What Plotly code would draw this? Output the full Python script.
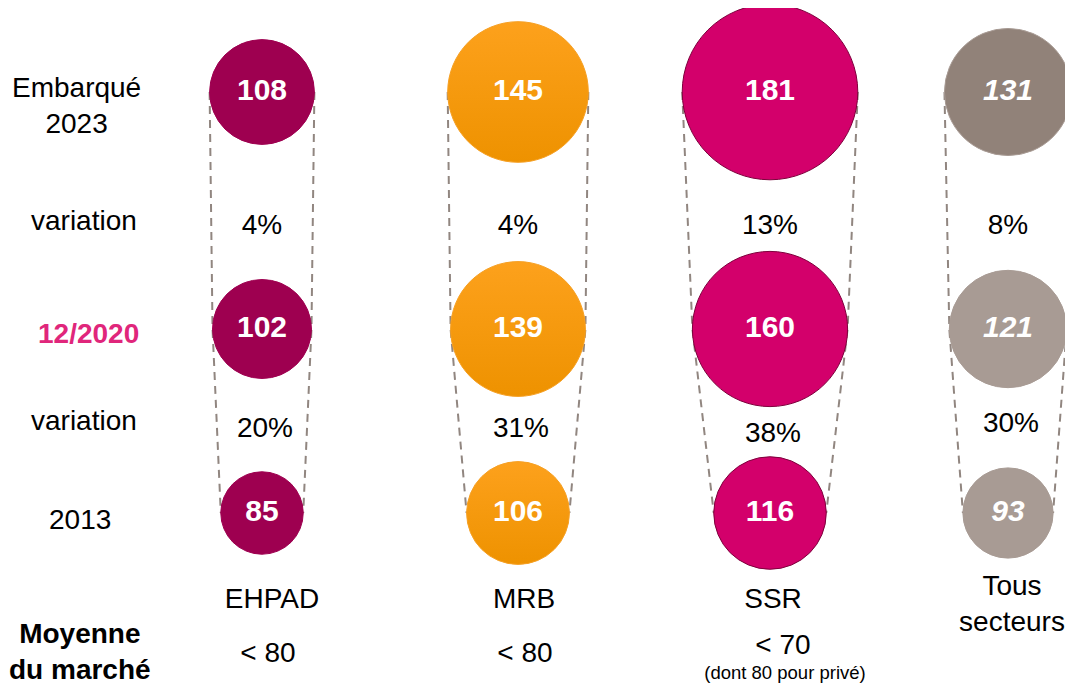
import plotly.graph_objects as go

# Données
secteurs = ["EHPAD", "MRB", "SSR", "Tous<br>secteurs"]
val_2023 = [108, 145, 181, 131]
val_2020 = [102, 139, 160, 121]
val_2013 = [85, 106, 116, 93]
var_2020_2023 = ["4%", "4%", "13%", "8%"]
var_2013_2020 = ["20%", "31%", "38%", "30%"]
moyenne = ["< 80", "< 80", "< 70", ""]
note_ssr = "(dont 80 pour privé)"

# Mise en page : la page a une marge de 8 px, on cale les axes pour que
# 1 unité = 1 px de l'écran
OFF = 8
W, H = 1073, 684
col_x = [262, 518, 770, 1008]
row_y = [92, 329, 513]
scale = 0.97  # diamètre du cercle = valeur * scale

couleurs = [
    ["#9E0050"] * 3,
    ["#FDA11C"] * 3,
    ["#D3006B"] * 3,
    ["#918279", "#A89B94", "#A89B94"],
]
contours = ["#9E0050", "#F6A024", "#7E003C", "#A89B94"]
FONT = "Arial, Liberation Sans, sans-serif"

fig = go.Figure()

# Lignes pointillées reliant les bords des cercles
for i in range(4):
    vals = [val_2023[i], val_2020[i], val_2013[i]]
    for side in (-1, 1):
        fig.add_trace(go.Scatter(
            x=[col_x[i] + side * v * scale / 2 for v in vals],
            y=row_y,
            mode="lines",
            line=dict(color="#918680", width=2, dash="8px,6px"),
            hoverinfo="skip"))

# Cercles
for i in range(4):
    vals = [val_2023[i], val_2020[i], val_2013[i]]
    marker = dict(size=vals, sizemode="diameter", sizeref=1 / scale,
                  color=couleurs[i], opacity=1,
                  line=dict(color=contours[i], width=1))
    if i == 1:
        marker["gradient"] = dict(type="vertical", color="#EE9200")
    fig.add_trace(go.Scatter(
        x=[col_x[i]] * 3, y=row_y, mode="markers+text",
        text=[str(v) for v in vals], textposition="middle center",
        textfont=dict(family=FONT, size=30, color="white", weight="bold",
                      style="italic" if i == 3 else "normal"),
        marker=marker, hoverinfo="skip"))

# Variations
var_y1 = [227, 227, 227, 227]
var_y2 = [430, 430, 435, 425]
fig.add_trace(go.Scatter(x=col_x, y=var_y1, mode="text", text=var_2020_2023,
                         textfont=dict(family=FONT, size=28, color="black"),
                         hoverinfo="skip"))
fig.add_trace(go.Scatter(x=[c + 3 for c in col_x], y=var_y2, mode="text", text=var_2013_2020,
                         textfont=dict(family=FONT, size=28, color="black"),
                         hoverinfo="skip"))

# Noms des secteurs
sect_y = [601, 601, 601, 606]
fig.add_trace(go.Scatter(x=[272, 524, 773, 1012], y=sect_y, mode="text", text=secteurs,
                         textfont=dict(family=FONT, size=28, color="black"),
                         hoverinfo="skip"))
# Moyenne du marché
fig.add_trace(go.Scatter(x=[268, 525, 783, 1012], y=[655, 655, 647, 655], mode="text",
                         text=moyenne,
                         textfont=dict(family=FONT, size=28, color="black"),
                         hoverinfo="skip"))
fig.add_trace(go.Scatter(x=[785], y=[674], mode="text", text=[note_ssr],
                         textfont=dict(family=FONT, size=18.5, color="black"),
                         hoverinfo="skip"))

# Libellés de gauche
labels_gauche = [
    ("Embarqué<br>2023", 76, 105, "black", "normal"),
    ("variation", 84, 220, "black", "normal"),
    ("12/2020", 88, 333, "#E0267B", "bold"),
    ("variation", 84, 420, "black", "normal"),
    ("2013", 80, 519, "black", "normal"),
    ("Moyenne<br>du marché", 80, 651, "black", "bold"),
]
for txt, x, y, col, wt in labels_gauche:
    fig.add_annotation(x=x, y=y, text=txt, showarrow=False,
                       font=dict(family=FONT, size=28, color=col, weight=wt),
                       xanchor="center", yanchor="middle")

fig.update_layout(
    width=W - OFF, height=H - OFF, margin=dict(l=0, r=0, t=0, b=0),
    paper_bgcolor="white", plot_bgcolor="white", showlegend=False,
    xaxis=dict(range=[OFF, W], visible=False, fixedrange=True),
    yaxis=dict(range=[H, OFF], visible=False, fixedrange=True),
)

fig.write_html("out.html")
